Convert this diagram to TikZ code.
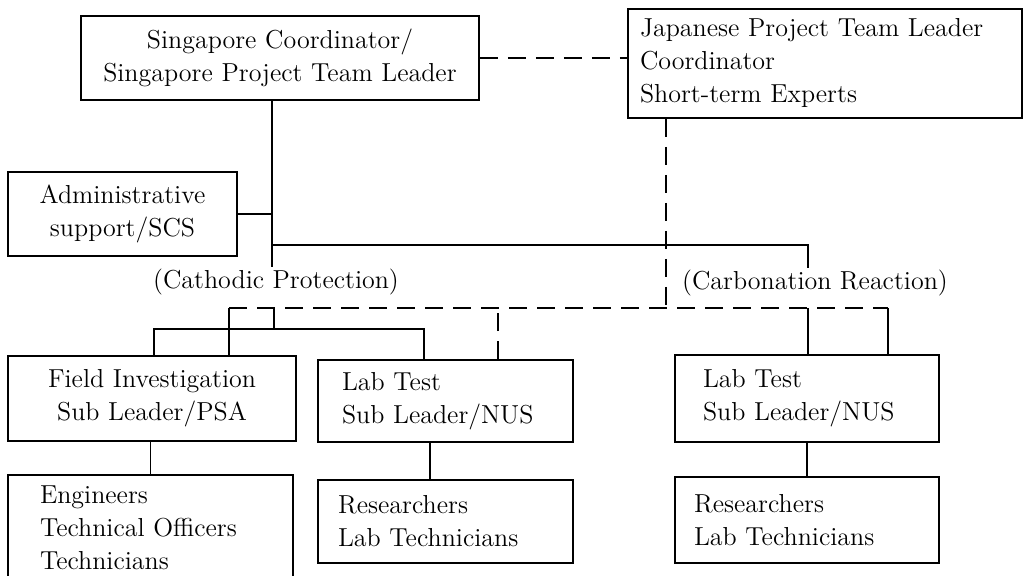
\documentclass[tikz,border=0pt]{standalone}
\begin{document}
\begin{tikzpicture}[x=0.5pt,y=-0.5pt,
  box/.style={draw,line width=0.9pt,inner ysep=0pt,font=\fontsize{13}{16.5}\selectfont},
  cbox/.style={box,align=center,inner xsep=3pt},
  lbox/.style={box,align=left},
  link/.style={line width=0.8pt},
  dlink/.style={line width=0.8pt,dash pattern=on 9pt off 5pt},
  tag/.style={inner sep=1pt,font=\fontsize{13}{16.5}\selectfont}]

  \useasboundingbox (0,0) rectangle (1036,576);

  %upper boxes
  \node (SG) at (280,58)[cbox,text width=193pt,minimum height=42pt]{Singapore Coordinator/\\Singapore Project Team Leader};
  \node (JP) at (825,63.5)[lbox,inner xsep=6pt,text width=185pt,minimum height=54.5pt]{Japanese Project Team Leader\\Coordinator\\Short-term Experts};
  \node (AD) at (122.5,214)[cbox,text width=108.5pt,minimum height=42pt]{Administrative\\support/SCS};

  %sub leaders
  \node (FI) at (152,398.5)[cbox,text width=138pt,minimum height=42.5pt]{Field Investigation\\Sub Leader/PSA};
  \node (LT1) at (445.5,401)[lbox,inner xsep=12pt,text width=103.5pt,minimum height=41pt]{Lab Test\\Sub Leader/NUS};
  \node (LT2) at (807,398.5)[lbox,inner xsep=14pt,text width=104pt,minimum height=43.5pt]{Lab Test\\Sub Leader/NUS};

  %staff
  \node (EN) at (150.5,527.5)[lbox,inner xsep=16pt,text width=110.5pt,minimum height=52.5pt]{Engineers\\Technical Officers\\Technicians};
  \node (RE1) at (445.5,521.5)[lbox,inner xsep=10pt,text width=107.5pt,minimum height=41.5pt]{Researchers\\Lab Technicians};
  \node (RE2) at (807,520)[lbox,inner xsep=9.5pt,text width=113pt,minimum height=43pt]{Researchers\\Lab Technicians};

  %group labels
  \node (CP) at (276,282)[tag]{(Cathodic Protection)};
  \node (CR) at (815,283)[tag]{(Carbonation Reaction)};

  %junctions
  \coordinate (tA) at (272,209);
  \coordinate (tB) at (272,245);
  \coordinate (tC) at (808,245);
  \coordinate (tD) at (274,308);
  \coordinate (tE) at (274,329);
  \coordinate (tF) at (154,329);
  \coordinate (tG) at (424,329);
  \coordinate (tH) at (808,308);
  \coordinate (tI) at (430,450);
  \coordinate (dA) at (666,308);
  \coordinate (dL) at (229,308);
  \coordinate (dM) at (498,308);
  \coordinate (dR) at (888,308);

  %solid lines
  \draw [link] (SG.south -| tA) to (CP.north -| tA);
  \draw [link] (AD.east) to (AD.east -| tA);
  \draw [link] (tB) -- (tC) -- (CR.north -| tC);
  \draw [link] (tD) to (tE);
  \draw [link] (FI.north -| tF) -- (tF) -- (tG) -- (LT1.north -| tG);
  \draw [link] (tH) to (LT2.north -| tH);
  \draw [link] (FI.south -| EN.north) to (EN.north);
  \draw [link] (LT1.south -| tI) to (RE1.north -| tI);
  \draw [link] (LT2.south) to (RE2.north);

  %dashed lines
  \draw [dlink] (SG.east) to (SG.east -| JP.west);
  \draw [dlink] (JP.south -| dA) to (dA);
  \draw [dlink] (dL) to (dR);
  \draw [link] (dL) to (FI.north -| dL);
  \draw [dlink] (LT1.north -| dM) to (dM);
  \draw [link] (dR) to (LT2.north -| dR);
\end{tikzpicture}
\end{document}
